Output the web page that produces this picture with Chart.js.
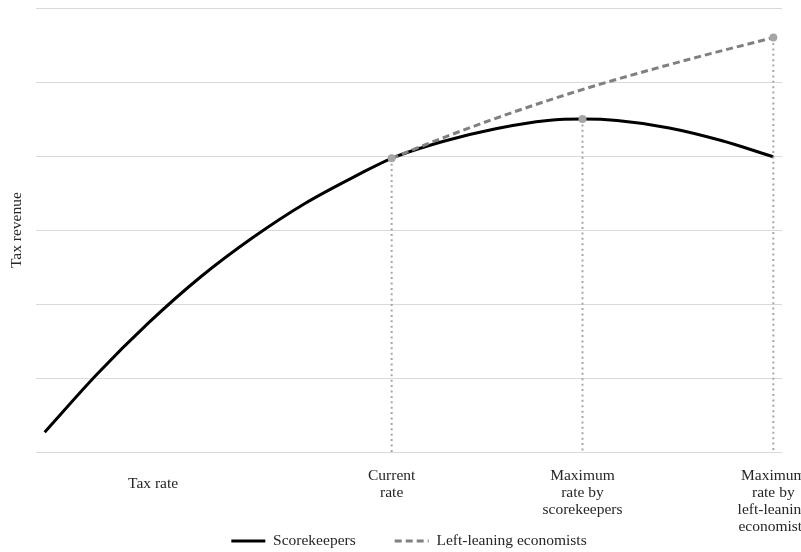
<!DOCTYPE html>
<html>
<head>
<meta charset="utf-8">
<script src="https://cdn.jsdelivr.net/npm/chart.js@4"></script>
<style>
  html, body { margin: 0; padding: 0; background: #ffffff; }
  #wrap { width: 801px; height: 552px; }
</style>
</head>
<body>
<div id="wrap"><canvas id="chart" width="801" height="552"></canvas></div>
<script>
// Tax rate positions (category steps along the horizontal axis)
const rateSteps = [0, 3, 6, 9, 12, 15, 18, 20, 23, 26, 29, 31, 33, 36, 39, 42];
// Revenue under the scorekeepers' view
const scorekeepersRevenue = [0.27, 1.05, 1.75, 2.37, 2.90, 3.36, 3.74, 3.97, 4.20, 4.37, 4.48, 4.50, 4.48, 4.38, 4.21, 3.99];

// Revenue under the left-leaning economists' view (from the current rate upward)
const leftRateSteps = [20, 23, 26, 29, 32, 35, 38, 42];
const leftLeaningRevenue = [3.97, 4.25, 4.51, 4.75, 4.97, 5.17, 5.36, 5.60];

// Marked rates with their revenue, each dropped to the axis
const markerRates = [20, 31, 42];
const markerRevenue = [3.97, 4.50, 5.60];

// Horizontal axis labels
const tickRates = [6.25, 20, 31, 42];
const tickLabels = [
  ['Tax rate'],
  ['Current', 'rate'],
  ['Maximum', 'rate by', 'scorekeepers'],
  ['Maximum', 'rate by', 'left-leaning', 'economists']
];

const FONT = "'Liberation Serif', 'Times New Roman', serif";
const TEXT = '#262626';
const MARK = '#a6a6a6';

const toPoints = (xs, ys) => xs.map((x, i) => ({ x: x, y: ys[i] }));

const dropLines = markerRates.map((r, i) => ({
  label: 'drop' + i,
  data: [{ x: r, y: markerRevenue[i] }, { x: r, y: 0 }],
  borderColor: MARK,
  borderWidth: 2,
  borderDash: [2, 3.4],
  pointRadius: [4, 0],
  pointBackgroundColor: MARK,
  pointBorderWidth: 0,
  tension: 0,
  order: 1
}));

// Let the multi-line rate labels run below the axis box instead of being cut off
const labelRoom = {
  id: 'labelRoom',
  afterLayout(chart) {
    chart.scales.x.bottom = chart.height;
  }
};

new Chart(document.getElementById('chart'), {
  type: 'line',
  data: {
    datasets: [
      {
        label: 'Scorekeepers',
        data: toPoints(rateSteps, scorekeepersRevenue),
        borderColor: '#000000',
        backgroundColor: '#000000',
        borderWidth: 3,
        pointRadius: 0,
        cubicInterpolationMode: 'monotone',
        order: 3
      },
      {
        label: 'Left-leaning economists',
        data: toPoints(leftRateSteps, leftLeaningRevenue),
        borderColor: '#808080',
        backgroundColor: '#808080',
        borderWidth: 3,
        borderDash: [7, 4],
        pointRadius: 0,
        cubicInterpolationMode: 'monotone',
        order: 2
      },
      ...dropLines
    ]
  },
  plugins: [labelRoom],
  options: {
    responsive: false,
    animation: false,
    events: [],
    layout: { padding: { top: 8, right: 19, bottom: -6.75, left: 0 } },
    scales: {
      x: {
        type: 'linear',
        min: -0.5,
        max: 42.5,
        grid: { display: false, drawTicks: false },
        border: { display: false },
        afterBuildTicks: (scale) => {
          scale.ticks = tickRates.map(v => ({ value: v }));
        },
        afterFit: (scale) => {
          scale.height = 42;
          scale.paddingLeft = 0;
          scale.paddingRight = 0;
        },
        ticks: {
          autoSkip: false,
          maxRotation: 0,
          minRotation: 0,
          padding: 15,
          color: TEXT,
          font: (c) => ({ family: FONT, size: 15.5, lineHeight: c.index === 0 ? 2.13 : 1.1 }),
          callback: (value, index) => tickLabels[index]
        }
      },
      y: {
        min: 0,
        max: 6,
        ticks: { display: false, stepSize: 1 },
        grid: { color: '#d9d9d9', lineWidth: 1, drawTicks: false },
        border: { display: false },
        title: {
          display: true,
          text: 'Tax revenue',
          color: TEXT,
          font: { family: FONT, size: 15.5, lineHeight: 1.2 },
          padding: { top: 7.7, bottom: 9.7 }
        }
      }
    },
    plugins: {
      tooltip: { enabled: false },
      legend: {
        position: 'bottom',
        fullSize: false,
        labels: {
          filter: (item) => item.datasetIndex < 2,
          sort: (a, b) => a.datasetIndex - b.datasetIndex,
          usePointStyle: true,
          pointStyle: 'line',
          pointStyleWidth: 34,
          padding: 39,
          color: TEXT,
          font: { family: FONT, size: 15.5 },
          generateLabels: (chart) => {
            const items = Chart.defaults.plugins.legend.labels.generateLabels(chart);
            return items.map(item => {
              const ds = chart.data.datasets[item.datasetIndex];
              item.lineDash = ds.borderDash || [];
              item.lineWidth = ds.borderWidth;
              item.strokeStyle = ds.borderColor;
              item.fillStyle = ds.borderColor;
              return item;
            });
          }
        }
      }
    }
  }
});
</script>
</body>
</html>
